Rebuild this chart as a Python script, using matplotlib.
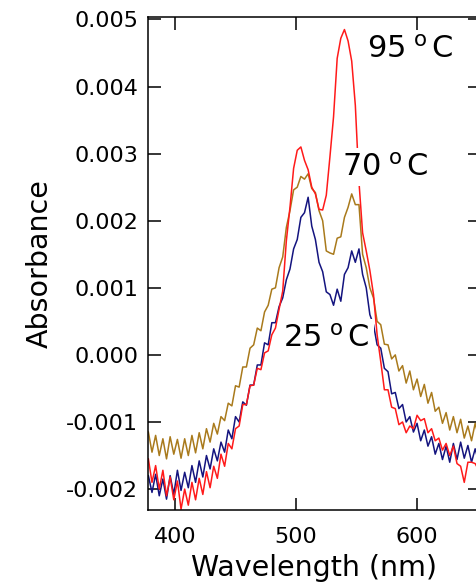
import numpy as np
import matplotlib
matplotlib.use("Agg")
import matplotlib.pyplot as plt
from matplotlib.ticker import FormatStrFormatter

plt.rcParams['axes.unicode_minus'] = False

# wavelength grid (nm), every 3 nm
wavelength = np.arange(378, 652, 3)

# absorbance values, in units of 1e-3
abs_25C = [
    -1.80, -2.05, -1.78, -2.10, -1.85, -2.15, -1.80, -2.08, -1.72, -2.02,
    -1.75, -1.98, -1.65, -1.90, -1.58, -1.82, -1.50, -1.70, -1.40, -1.58,
    -1.30, -1.45, -1.12, -1.25, -0.92, -1.00, -0.70, -0.75, -0.45, -0.45,
    -0.15, -0.15, 0.18, 0.15, 0.48, 0.48, 0.72, 0.85, 1.12, 1.28,
    1.58, 1.72, 2.05, 2.12, 2.35, 1.92, 1.72, 1.38, 1.24, 0.94,
    0.90, 0.74, 0.98, 0.80, 1.20, 1.30, 1.55, 1.38, 1.58, 1.20,
    1.00, 0.60, 0.45, 0.15, 0.10, -0.20, -0.25, -0.58, -0.56, -0.80,
    -0.74, -1.00, -0.92, -1.15, -1.02, -1.28, -1.12, -1.36, -1.22, -1.48,
    -1.32, -1.56, -1.36, -1.60, -1.32, -1.56, -1.30, -1.54, -1.35, -1.60,
    -1.40, -1.60,
]

abs_70C = [
    -1.15, -1.45, -1.20, -1.50, -1.25, -1.55, -1.22, -1.48, -1.26, -1.54,
    -1.25, -1.50, -1.20, -1.46, -1.16, -1.40, -1.10, -1.30, -1.02, -1.18,
    -0.92, -0.98, -0.72, -0.76, -0.46, -0.48, -0.18, -0.18, 0.10, 0.15,
    0.40, 0.36, 0.64, 0.74, 0.98, 1.00, 1.30, 1.46, 1.90, 2.15,
    2.46, 2.50, 2.66, 2.62, 2.70, 2.48, 2.42, 2.15, 2.00, 1.55,
    1.52, 1.50, 1.74, 1.76, 2.05, 2.20, 2.40, 2.24, 2.24, 1.50,
    1.30, 1.00, 0.85, 0.50, 0.45, 0.16, 0.15, -0.06, 0.00, -0.24,
    -0.16, -0.42, -0.24, -0.52, -0.36, -0.62, -0.44, -0.72, -0.56, -0.84,
    -0.78, -1.02, -0.86, -1.12, -0.92, -1.16, -0.96, -1.24, -1.06, -1.28,
    -1.02, -1.24,
]

abs_95C = [
    -1.55, -1.90, -1.65, -2.00, -1.72, -2.10, -1.82, -2.16, -1.88, -2.30,
    -2.00, -2.24, -1.90, -2.16, -1.84, -2.08, -1.74, -1.98, -1.66, -1.84,
    -1.48, -1.66, -1.32, -1.40, -1.10, -1.06, -0.74, -0.74, -0.46, -0.45,
    -0.20, -0.22, 0.03, 0.06, 0.30, 0.40, 0.68, 0.95, 1.70, 2.20,
    2.78, 3.05, 3.10, 2.90, 2.76, 2.50, 2.40, 2.17, 2.16, 2.38,
    2.95, 3.55, 4.42, 4.72, 4.85, 4.68, 4.38, 3.72, 2.58, 1.82,
    1.55, 1.26, 0.90, 0.30, -0.10, -0.52, -0.52, -0.78, -0.80, -1.04,
    -1.00, -1.16, -1.06, -1.10, -0.90, -0.98, -0.95, -1.16, -1.10, -1.28,
    -1.24, -1.42, -1.32, -1.50, -1.36, -1.62, -1.66, -1.90, -1.60, -1.60,
    -1.62, -1.72,
]

labels = [r"$\mathregular{25^{\ o}\,C}$", r"$\mathregular{70^{\ o}\,C}$",
          r"$\mathregular{95^{\ o}\,C}$"]
label_pos = [(489, 0.00025), (538, 0.0028), (558.5, 0.00455)]

fig = plt.figure(figsize=(4.76, 5.83), dpi=100)
ax = fig.add_axes([148/476, 1 - 510/583, (480 - 148)/476, (510 - 17)/583])

ax.plot(wavelength, np.array(abs_70C) * 1e-3, color='#a97a1c', lw=1.1)
ax.plot(wavelength, np.array(abs_25C) * 1e-3, color='#14147f', lw=1.1)
ax.plot(wavelength, np.array(abs_95C) * 1e-3, color='#ff1a1a', lw=1.1)

for txt, (x, y) in zip(labels, label_pos):
    ax.text(x, y, txt, fontsize=22, ha='left', va='center', zorder=5,
            bbox=dict(facecolor='white', edgecolor='none', pad=3))

ax.set_xlim(377.7, 652)
ax.set_ylim(-0.002312, 0.005037)
ax.set_xticks([400, 500, 600])
ax.set_yticks([-0.002, -0.001, 0.0, 0.001, 0.002, 0.003, 0.004, 0.005])
ax.yaxis.set_major_formatter(FormatStrFormatter('%.3f'))

ax.tick_params(direction='in', length=9, width=1.1, labelsize=16,
               top=True, right=True, pad=7)
ax.tick_params(axis='x', pad=12)
for s in ax.spines.values():
    s.set_linewidth(1.1)

ax.set_xlabel("Wavelength (nm)", fontsize=20.5, labelpad=5)
ax.set_ylabel("Absorbance", fontsize=20.5, labelpad=9)

fig.savefig("out.png", dpi=100)
